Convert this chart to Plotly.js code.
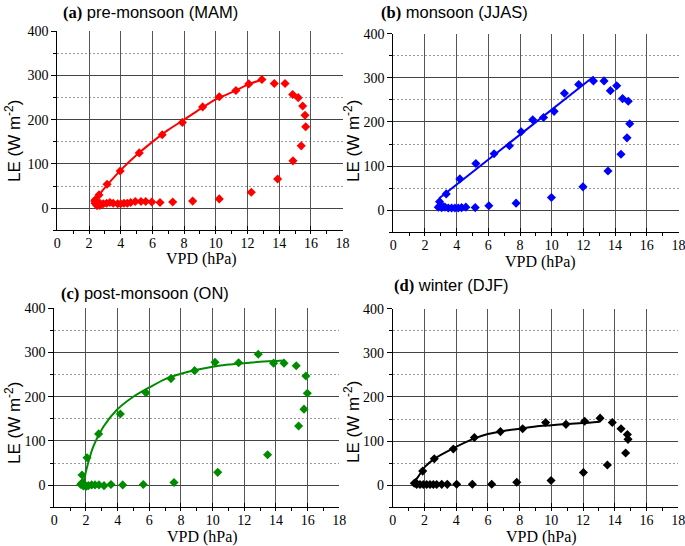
<!DOCTYPE html>
<html>
<head>
<meta charset="utf-8">
<script src="https://cdn.plot.ly/plotly-3.0.1.min.js"></script>
<style>html,body{margin:0;padding:0;background:#fff;overflow:hidden;width:685px;height:546px;} #chart{width:685px;height:546px;overflow:hidden;}</style>
</head>
<body>
<div id="chart"></div>
<script>
// ---- Data ----
const panelTitles = ["pre-monsoon (MAM)", "monsoon (JJAS)", "post-monsoon (ON)", "winter (DJF)"];
const panelLetters = ["(a)", "(b)", "(c)", "(d)"];
const xTickVals = [0, 2, 4, 6, 8, 10, 12, 14, 16, 18];
const yTickVals = [0, 100, 200, 300, 400];

// (a) pre-monsoon
const vpdA = [2.40, 2.63, 3.14, 3.97, 5.17, 6.62, 7.89, 9.17, 10.22, 11.27, 12.08, 12.91,
  13.69, 14.37, 14.85, 15.20, 15.48, 15.63, 15.67, 15.39, 14.87, 13.90, 12.24, 10.22, 8.54,
  7.28, 6.48, 5.96, 5.58, 5.28, 4.92, 4.63, 4.42, 4.21, 4.00, 3.81, 3.53, 3.32, 3.11, 2.90,
  2.69, 2.48, 2.38, 2.36, 2.52, 2.69];
const leA = [19, 30, 54, 84, 125, 166, 194, 229, 252, 266, 281, 291,
  282, 282, 257, 250, 231, 210, 184, 141, 107, 66, 36, 21, 16,
  14, 13, 14, 15, 15, 15, 13, 11, 11, 10, 10, 11, 13, 11, 10,
  11, 7, 11, 16, 6, 6];
const fitVpdA = [2.35, 2.63, 3.14, 4, 5, 6, 7, 8, 9, 10, 11, 12, 13];
const fitLeA = [16, 30, 52, 86, 120, 150, 177, 200, 224, 246, 262, 279, 292];

// (b) monsoon
const vpdB = [2.92, 3.34, 4.20, 5.21, 6.36, 7.33, 8.07, 8.80, 9.48, 10.15, 10.80, 11.70, 12.63,
  13.30, 13.70, 14.10, 14.47, 14.83, 14.92, 14.75, 14.37, 13.55, 11.97, 9.98, 7.75, 6.03,
  5.17, 4.58, 4.31, 4.10, 3.89, 3.68, 3.47, 3.26, 3.05, 2.84, 3.15];
const leB = [19.5, 37, 71, 106, 128, 146, 178, 205, 210, 224, 265, 285, 293,
  293, 271, 282, 253, 247, 196, 164, 127, 89, 53, 29, 16, 10,
  6, 7, 6, 5, 5, 5, 5, 7, 6, 7, 8];
const fitVpdB = [2.9, 12.65];
const fitLeB = [27, 303];

// (c) post-monsoon
const vpdC = [1.75, 2.07, 2.80, 4.17, 5.79, 7.37, 8.86, 10.15, 11.64, 12.88, 13.85, 14.51,
  15.28, 15.89, 15.98, 15.77, 15.43, 13.47, 10.32, 7.56, 5.62, 4.32, 3.58, 3.14, 2.82,
  2.57, 2.36, 2.15, 2.00, 1.83, 1.79, 1.67, 1.73];
const leC = [23, 62, 116, 161, 209, 241, 259, 278, 277, 296, 276, 276,
  270, 247, 208, 172, 134, 69, 29, 6, 1.4, 0.7, 1.4, -1, 0.7,
  0.7, 0.7, -1, -3, -1.5, 6, 1.4, 4.5];
const fitVpdC = [1.83, 2.09, 2.46, 3.1, 3.94, 4.99, 6, 7, 8, 9, 10, 11, 12, 13, 14, 14.5];
const fitLeC = [5, 44, 87, 132, 170, 200, 221, 240, 252, 261, 268, 273, 276, 279, 281, 282];

// (d) winter
const vpdD = [1.45, 1.89, 2.62, 3.82, 5.15, 6.79, 8.19, 9.64, 10.92, 12.10, 13.07, 13.84,
  14.39, 14.79, 14.83, 14.68, 13.53, 12.02, 9.98, 7.82, 6.24, 5.02, 4.03, 3.44, 3.09,
  2.77, 2.56, 2.35, 2.14, 1.93, 1.72, 1.51, 1.36];
const leD = [6, 32, 60, 82, 108, 121.5, 128, 142, 138, 145, 152, 142,
  128, 115, 104, 73, 46, 29, 10.6, 6.8, 2.3, 2.3, 2.3, 2, 2,
  1.5, 1.5, 1.5, 1.5, 1.5, 1.5, 2, 4.5];
const fitVpdD = [1.36, 1.61, 2.04, 2.67, 3.72, 5, 6, 7, 8, 9, 10, 11, 12, 13.05];
const fitLeD = [8, 19.5, 42, 61, 82, 104, 116, 123, 128, 133, 136, 139, 141, 144];

// ---- Styling / layout ----
const colors = ["#ff0000", "#0000ff", "#008c00", "#000000"];
const panels = [
  {x: vpdA, y: leA, fx: fitVpdA, fy: fitLeA},
  {x: vpdB, y: leB, fx: fitVpdB, fy: fitLeB},
  {x: vpdC, y: leC, fx: fitVpdC, fy: fitLeC},
  {x: vpdD, y: leD, fx: fitVpdD, fy: fitLeD}
];
const W = 685, H = 546;
// pixel boxes: [left, right, top, bottom]
const boxes = [
  [57.3, 342.6, 31.3, 230.3],
  [393.3, 678.5, 33.7, 232.3],
  [54.3, 339.3, 308.3, 507.3],
  [392.7, 678.3, 308.7, 507.3]
];
const titlePos = [[61, 12], [379, 12], [59, 293], [392, 285]];
const xTitlePos = [[201, 259], [540, 262], [202, 537], [541, 537]];
const yTitlePos = [[13, 141], [352, 141], [13, 423], [352, 422]];

const serif = "Liberation Serif";
const sans = "Liberation Sans";

const data = [];
const layout = {
  width: W, height: H,
  margin: {l: 0, r: 0, t: 0, b: 0},
  paper_bgcolor: "#fff", plot_bgcolor: "#fff",
  showlegend: false,
  annotations: []
};

panels.forEach((p, i) => {
  const n = i + 1;
  const xa = n === 1 ? "x" : "x" + n;
  const ya = n === 1 ? "y" : "y" + n;
  data.push({
    x: p.fx, y: p.fy, xaxis: xa, yaxis: ya, type: "scatter", mode: "lines",
    line: {color: colors[i], width: 2, shape: "spline", smoothing: 0.6},
    hoverinfo: "skip"
  });
  data.push({
    x: p.x, y: p.y, xaxis: xa, yaxis: ya, type: "scatter", mode: "markers",
    marker: {symbol: "diamond", size: 7, color: colors[i], line: {width: 0}}
  });
  const b = boxes[i];
  const xKey = n === 1 ? "xaxis" : "xaxis" + n;
  const yKey = n === 1 ? "yaxis" : "yaxis" + n;
  layout[xKey] = {
    domain: [b[0] / W, b[1] / W], anchor: ya,
    range: [0, 18], tickvals: xTickVals, ticktext: xTickVals.map(String),
    showline: true, linecolor: "#000", linewidth: 1,
    ticks: "inside", ticklen: 4, tickcolor: "#000",
    ticklabeloverflow: "allow",
    showgrid: true, gridcolor: "#555", gridwidth: 1, zeroline: false,
    minor: {dtick: 1, tick0: 0, ticks: "outside", ticklen: 3, tickcolor: "#000", showgrid: false},
    tickfont: {family: serif, size: 14, color: "#000"}
  };
  layout[yKey] = {
    domain: [1 - b[3] / H, 1 - b[2] / H], anchor: xa,
    range: [-50, 400], tickvals: yTickVals, ticktext: yTickVals.map(String),
    showline: true, linecolor: "#000", linewidth: 1,
    ticks: "outside", ticklen: 5, tickcolor: "#000",
    showgrid: true, gridcolor: "#444", gridwidth: 1, zeroline: false,
    minor: {dtick: 50, tick0: 0, ticks: "outside", ticklen: 3, tickcolor: "#000",
            showgrid: true, gridcolor: "#999", griddash: "2px,2px", gridwidth: 1},
    tickfont: {family: serif, size: 14, color: "#000"}
  };
  layout.annotations.push({
    xref: "paper", yref: "paper",
    x: titlePos[i][0] / W, y: 1 - titlePos[i][1] / H,
    xanchor: "left", yanchor: "middle", showarrow: false,
    text: "<b style=\"font-family:Liberation Serif\">" + panelLetters[i] + "</b> " + panelTitles[i],
    font: {family: sans, size: 16.5, color: "#000"}
  });
  layout.annotations.push({
    xref: "paper", yref: "paper",
    x: xTitlePos[i][0] / W, y: 1 - xTitlePos[i][1] / H,
    xanchor: "center", yanchor: "middle", showarrow: false,
    text: "VPD (hPa)",
    font: {family: serif, size: 16, color: "#000"}
  });
  layout.annotations.push({
    xref: "paper", yref: "paper",
    x: yTitlePos[i][0] / W, y: 1 - yTitlePos[i][1] / H,
    xanchor: "center", yanchor: "middle", showarrow: false, textangle: -90,
    text: "LE (W m<sup>-2</sup>)",
    font: {family: sans, size: 17, color: "#000"}
  });
});

Plotly.newPlot("chart", data, layout, {staticPlot: true, displayModeBar: false});
</script>
</body>
</html>
